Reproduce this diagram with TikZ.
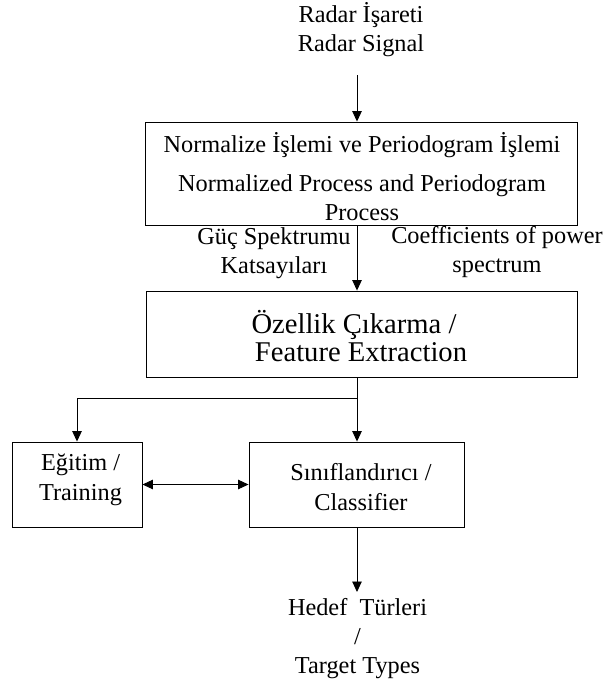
\documentclass[tikz,border=0pt]{standalone}
\usepackage{fontspec}
\setmainfont{Liberation Serif}
\usetikzlibrary{arrows.meta}
\begin{document}
\begin{tikzpicture}[x=1pt,y=-1pt,
  box/.style={draw, line width=0.9pt, inner sep=0pt},
  txt/.style={align=center, inner sep=0pt, font=\fontsize{24.3}{29}\selectfont},
  bigtxt/.style={align=center, inner sep=0pt, font=\fontsize{28.6}{28.5}\selectfont},
  conn/.style={line width=0.9pt},
  arr/.style={conn, -{Triangle[length=10.5pt,width=9.5pt]}},
  dblarr/.style={conn, {Triangle[length=10.5pt,width=9.5pt]}-{Triangle[length=10.5pt,width=9.5pt]}}]
\useasboundingbox (0,0) rectangle (605,686);

% input text
\node[txt] (radar) at (361,30) {Radar İşareti\\Radar Signal};
\coordinate (in) at (357,75);

% box 1
\node[box, minimum width=432pt, minimum height=103pt] (b1) at (361,173.5) {};
\node[txt] (b1t) at (362,176.5) {Normalize İşlemi ve Periodogram İşlemi\\[10pt]Normalized Process and Periodogram\\Process};

% labels between
\node[txt] (gs) at (274,253.5) {Güç Spektrumu\\Katsayıları};
\node[txt] (cp) at (497,252.5) {Coefficients of power\\spectrum};

% box 2
\node[box, minimum width=431pt, minimum height=86pt] (b2) at (361.5,334) {};
\node[bigtxt] (b2t) at (361,336) {Özellik Çıkarma /\makebox[14pt]{}\\Feature Extraction};

% training
\node[box, minimum width=130pt, minimum height=85pt] (tr) at (77,484.5) {};
\node[txt, font=\fontsize{24.3}{30}\selectfont] (trt) at (80.5,480) {Eğitim /\\Training};

% classifier
\node[box, minimum width=215pt, minimum height=85pt] (cl) at (356.5,484.5) {};
\node[txt, font=\fontsize{24.3}{30}\selectfont] (clt) at (361,487) {Sınıflandırıcı /\\Classifier};

% output
\coordinate (out) at (357,592);
\node[txt] (hedef) at (357.5,639) {Hedef\ \ Türleri\\/\\Target Types};

% connectors
\coordinate (j) at (357,398);
\draw[arr] (in) -- (in |- b1.north);
\draw[arr] (b1.south -| in) -- (b2.north -| in);
\draw[conn] (b2.south -| in) -- (j);
\draw[arr] (j) -- (j |- cl.north);
\draw[arr] (j) -| (tr.north);
\draw[dblarr] (tr.east) -- (cl.west);
\draw[arr] (cl.south -| in) -- (out);
\end{tikzpicture}
\end{document}
